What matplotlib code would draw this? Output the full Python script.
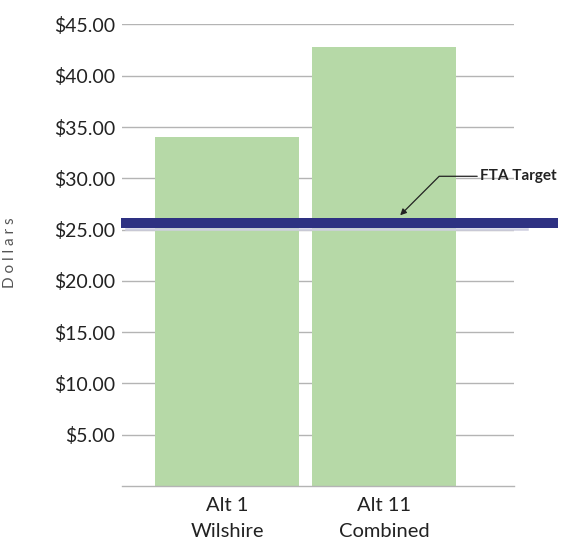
import numpy as np
import matplotlib
matplotlib.use("Agg")
import matplotlib.pyplot as plt

# data
categories = ["Alt 1\nWilshire", "Alt 11\nCombined"]
costs = [34.0, 42.8]
fta_target = 25.6
y_ticks = [5, 10, 15, 20, 25, 30, 35, 40, 45]

bar_color = "#b6d9a7"
line_color = "#2e3182"
grid_color = "#b4b4b4"

plt.rcParams["font.family"] = ["Lato", "DejaVu Sans"]

fig = plt.figure(figsize=(5.62, 5.48), dpi=100)
ax = fig.add_axes([0.217, 0.1131, 0.698, 0.8422])

x = np.arange(len(categories))
ax.bar(x, costs, width=0.917, color=bar_color, zorder=2)

ax.set_ylim(0, 45)
ax.set_xlim(-0.669, 1.828)
ax.set_yticks(y_ticks)
ax.set_yticklabels(["${:.2f}".format(v) for v in y_ticks], fontsize=14, color="#222222")
ax.set_xticks(x)
ax.set_xticklabels(categories, fontsize=14.5, color="#222222", linespacing=1.6)
ax.tick_params(axis="both", length=0)
ax.tick_params(axis="y", pad=5)
ax.tick_params(axis="x", pad=8)

ax.yaxis.grid(True, color=grid_color, linewidth=1, zorder=1)
ax.set_axisbelow(True)
for s in ["top", "right", "left"]:
    ax.spines[s].set_visible(False)
ax.spines["bottom"].set_color(grid_color)
ax.spines["bottom"].set_linewidth(1)

# target line, runs past the plot area on the right
ax.axhline(fta_target - 0.5, xmin=0.01, xmax=1.033, color="#cfcfe0", linewidth=1.8,
           clip_on=False, zorder=3)
ax.axhline(fta_target, xmin=0.01, xmax=1.10, color=line_color, linewidth=7.2,
           clip_on=False, zorder=4)

ax.annotate("FTA Target", xy=(1.102, fta_target + 0.8), xytext=(1.61, 30.2),
            fontsize=11, fontweight="bold", color="#222222",
            ha="left", va="center", annotation_clip=False,
            arrowprops=dict(arrowstyle="-|>", color="#222222", lw=0.9,
                            shrinkA=0, shrinkB=0, mutation_scale=9,
                            connectionstyle="angle,angleA=180,angleB=45,rad=0"),
            zorder=5)

fig.text(10 / 562, 1 - 253 / 548, "D o l l a r s", rotation=90, fontsize=11,
         color="#555555", ha="center", va="center")

fig.savefig("out.png", dpi=100)
